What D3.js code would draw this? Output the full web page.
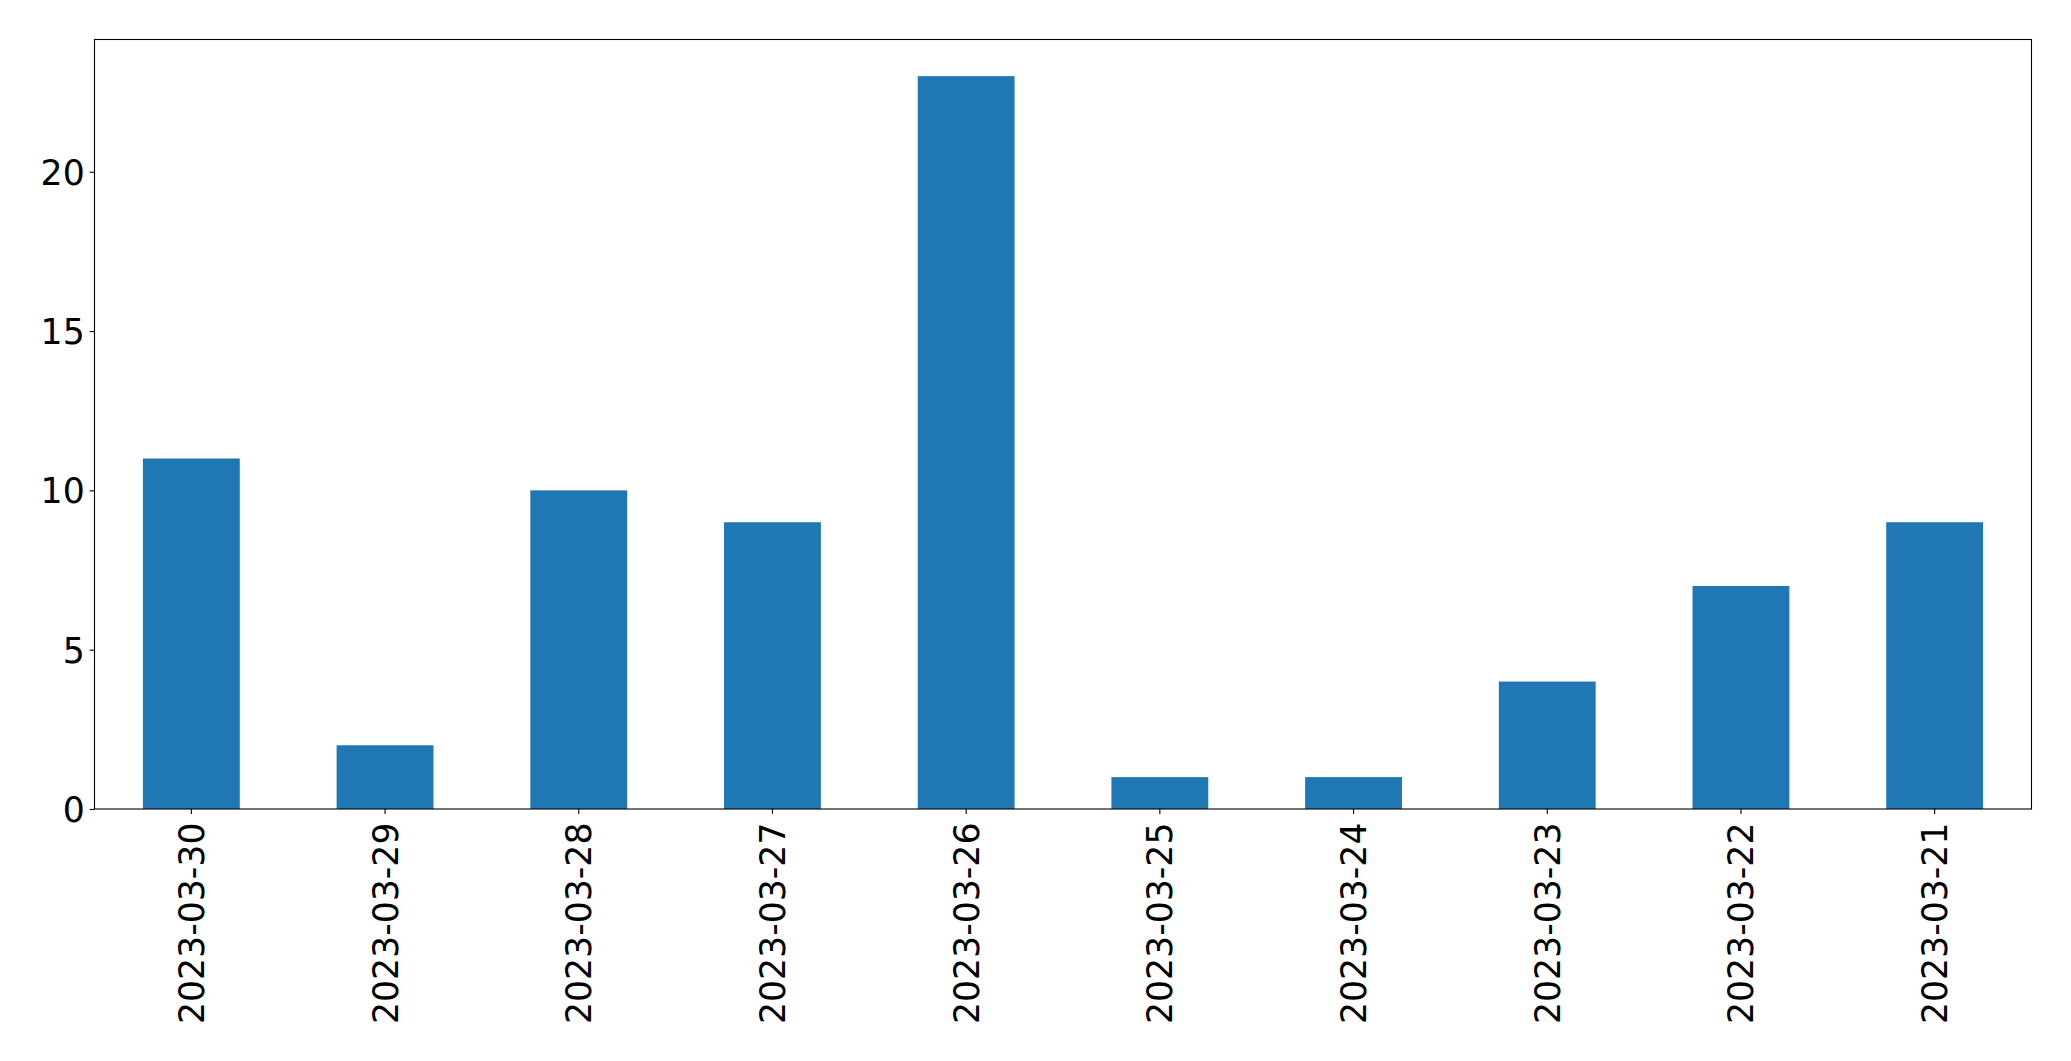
<!DOCTYPE html>
<html>
<head>
<meta charset="utf-8">
<script src="https://cdn.jsdelivr.net/npm/d3@7"></script>
<style>
  html, body { margin: 0; padding: 0; background: #fff; }
  svg { display: block; }
</style>
</head>
<body>
<svg id="chart" width="2071" height="1061"></svg>
<script>
const categories = ["2023-03-30","2023-03-29","2023-03-28","2023-03-27","2023-03-26","2023-03-25","2023-03-24","2023-03-23","2023-03-22","2023-03-21"];
const values = [11, 2, 10, 9, 23, 1, 1, 4, 7, 9];
const yTicks = [0, 5, 10, 15, 20];

const W = 2071, H = 1061;
const margin = { left: 94.5, right: W - 2031.5, top: 39.5, bottom: H - 809 };
const iw = W - margin.left - margin.right;
const ih = H - margin.top - margin.bottom;
const font = "DejaVu Sans";
const fs = 34.7;

const svg = d3.select("#chart");
const g = svg.append("g").attr("transform", `translate(${margin.left},${margin.top})`);

const x = d3.scaleBand().domain(categories).range([0, iw]).paddingInner(0.5).paddingOuter(0.25);
const y = d3.scaleLinear().domain([0, d3.max(values) * 1.05]).range([ih, 0]);

g.selectAll("rect.bar").data(values).join("rect")
  .attr("class", "bar")
  .attr("x", (d, i) => x(categories[i]))
  .attr("width", x.bandwidth())
  .attr("y", d => y(d))
  .attr("height", d => y(0) - y(d))
  .attr("fill", "#1f77b4");

// Y axis
const yAxis = g.append("g").call(d3.axisLeft(y).tickValues(yTicks).tickSize(4.9).tickPadding(4.9).tickFormat(d3.format("d")));
yAxis.select(".domain").remove();
yAxis.selectAll("line").attr("stroke", "#000").attr("stroke-width", 1.1);
yAxis.selectAll("text").attr("font-family", font).attr("font-size", fs).attr("fill", "#000").attr("dy", "0.36em");

// X axis
const xAxis = g.append("g").attr("transform", `translate(0,${ih})`).call(d3.axisBottom(x).tickSize(4.9).tickPadding(0));
xAxis.select(".domain").remove();
xAxis.selectAll("line").attr("stroke", "#000").attr("stroke-width", 1.1);
xAxis.selectAll("text")
  .attr("font-family", font).attr("font-size", fs).attr("fill", "#000")
  .attr("text-anchor", "end")
  .attr("transform", "translate(0,13.5) rotate(-90)")
  .attr("x", 0).attr("y", 0).attr("dy", "0.36em");

// Frame
g.append("rect").attr("x", 0).attr("y", 0).attr("width", iw).attr("height", ih)
  .attr("fill", "none").attr("stroke", "#000").attr("stroke-width", 1.1);
</script>
</body>
</html>
